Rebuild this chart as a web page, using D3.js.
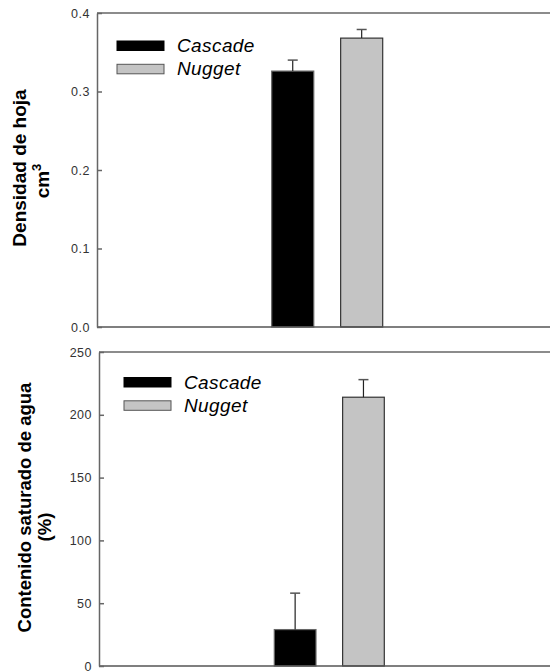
<!DOCTYPE html>
<html>
<head>
<meta charset="utf-8">
<script src="https://cdn.jsdelivr.net/npm/d3@7"></script>
<style>
    body { margin: 0; background: #fff; }
    svg { display: block; }
    .axis text { font-family: "Liberation Sans", Arial, sans-serif; font-size: 12.5px; letter-spacing: 0.5px; fill: #333; }
    .axis path, .axis line { stroke: #666; stroke-width: 1.5; }
    .y-label { font-family: "Liberation Sans", Arial, sans-serif; font-weight: bold; fill: #000; }
    .legend-text { font-family: "Liberation Sans", Arial, sans-serif; font-size: 19px; letter-spacing: 0.4px; font-style: italic; fill: #000; }
</style>
</head>
<body>
<div id="chart"></div>
<script>
let totalWidth = 550
let totalHeight = 672

// data
const varieties = ["Cascade", "Nugget"];
const barColors = ["#000000", "#c4c4c4"];
const barStrokes = ["#666666", "#333333"];

const densityMeans = [0.326, 0.368];
const densityErrors = [0.014, 0.011];
const densityTicks = [0, 0.1, 0.2, 0.3, 0.4];

const waterMeans = [29, 214];
const waterErrors = [29, 14];
const waterTicks = [0, 50, 100, 150, 200, 250];

let svg = d3.select("#chart").append("svg")
    .attr("width", totalWidth)
    .attr("height", totalHeight)

// layout of each panel (pixels)
let panels = [
    {
        means: densityMeans, errors: densityErrors, ticks: densityTicks,
        format: d3.format(".1f"),
        left: 97, top: 13, bottom: 327, right: 600,
        barRange: [271.7, 382.7],
        labels: ["Densidad de hoja", "cm"], sup: "3",
        labelSize: 19, labelX: [26, 48.5], labelY: [168, 181],
        legendX: 117, legendY: 41
    },
    {
        means: waterMeans, errors: waterErrors, ticks: waterTicks,
        format: d3.format("d"),
        left: 99, top: 352, bottom: 666, right: 600,
        barRange: [274.3, 384.3],
        labels: ["Contenido saturado de agua", "(%)"], sup: null,
        labelSize: 18.5, labelX: [30.5, 51], labelY: [507.5, 527],
        legendX: 124, legendY: 377.5
    }
];

panels.forEach(drawPanel);

function drawPanel(p){
    let g = svg.append("g");

    let yScale = d3.scaleLinear()
        .domain([0, d3.max(p.ticks)])
        .range([p.bottom, p.top]);

    let xScale = d3.scaleBand()
        .domain(varieties)
        .range(p.barRange)
        .paddingInner(0.39)
        .paddingOuter(0);

    // bars
    g.selectAll("rect.bar")
        .data(varieties)
        .enter()
        .append("rect")
        .attr("class", "bar")
        .attr("x", d => xScale(d))
        .attr("y", (d, i) => yScale(p.means[i]))
        .attr("width", xScale.bandwidth())
        .attr("height", (d, i) => p.bottom - yScale(p.means[i]))
        .attr("fill", (d, i) => barColors[i])
        .attr("stroke", (d, i) => barStrokes[i])
        .attr("stroke-width", 1.2);

    // upper error bars
    let err = g.selectAll("g.err")
        .data(varieties)
        .enter()
        .append("g")
        .attr("class", "err");

    err.append("line")
        .attr("x1", d => xScale(d) + xScale.bandwidth() / 2)
        .attr("x2", d => xScale(d) + xScale.bandwidth() / 2)
        .attr("y1", (d, i) => yScale(p.means[i]))
        .attr("y2", (d, i) => yScale(p.means[i] + p.errors[i]))
        .attr("stroke", "#222")
        .attr("stroke-width", 1.2);

    err.append("line")
        .attr("x1", d => xScale(d) + xScale.bandwidth() / 2 - 5)
        .attr("x2", d => xScale(d) + xScale.bandwidth() / 2 + 5)
        .attr("y1", (d, i) => yScale(p.means[i] + p.errors[i]))
        .attr("y2", (d, i) => yScale(p.means[i] + p.errors[i]))
        .attr("stroke", "#555")
        .attr("stroke-width", 1.5);

    // frame: top and bottom lines
    g.append("line")
        .attr("x1", p.left).attr("x2", p.right)
        .attr("y1", p.top).attr("y2", p.top)
        .attr("stroke", "#666").attr("stroke-width", 1.5);
    g.append("line")
        .attr("x1", p.left).attr("x2", p.right)
        .attr("y1", p.bottom).attr("y2", p.bottom)
        .attr("stroke", "#555").attr("stroke-width", 1.5);

    // y axis with inward ticks
    let yAxis = d3.axisLeft(yScale)
        .tickValues(p.ticks)
        .tickFormat(p.format)
        .tickSizeInner(-5)
        .tickSizeOuter(0)
        .tickPadding(7);

    g.append("g")
        .attr("class", "axis y-axis")
        .attr("transform", "translate(" + p.left + ",0)")
        .call(yAxis);

    // y label (two lines)
    g.append("text")
        .attr("class", "y-label")
        .style("font-size", p.labelSize + "px")
        .attr("transform", "translate(" + p.labelX[0] + "," + p.labelY[0] + ") rotate(-90)")
        .attr("text-anchor", "middle")
        .text(p.labels[0]);

    let second = g.append("text")
        .attr("class", "y-label")
        .style("font-size", p.labelSize + "px")
        .attr("transform", "translate(" + p.labelX[1] + "," + p.labelY[1] + ") rotate(-90)")
        .attr("text-anchor", "middle");
    second.append("tspan").text(p.labels[1]);
    if (p.sup) {
        second.append("tspan")
            .attr("dy", -8)
            .style("font-size", "13px")
            .text(p.sup);
    }

    // legend
    let legend = g.selectAll("g.legend")
        .data(varieties)
        .enter()
        .append("g")
        .attr("class", "legend")
        .attr("transform", (d, i) => "translate(" + p.legendX + "," + (p.legendY + i * 23.3) + ")");

    legend.append("rect")
        .attr("width", 47)
        .attr("height", 9.5)
        .attr("fill", (d, i) => barColors[i])
        .attr("stroke", (d, i) => i === 0 ? "#000" : "#555")
        .attr("stroke-width", 1);

    legend.append("text")
        .attr("class", "legend-text")
        .attr("x", 60)
        .attr("y", 11)
        .text(d => d);
}
</script>
</body>
</html>
